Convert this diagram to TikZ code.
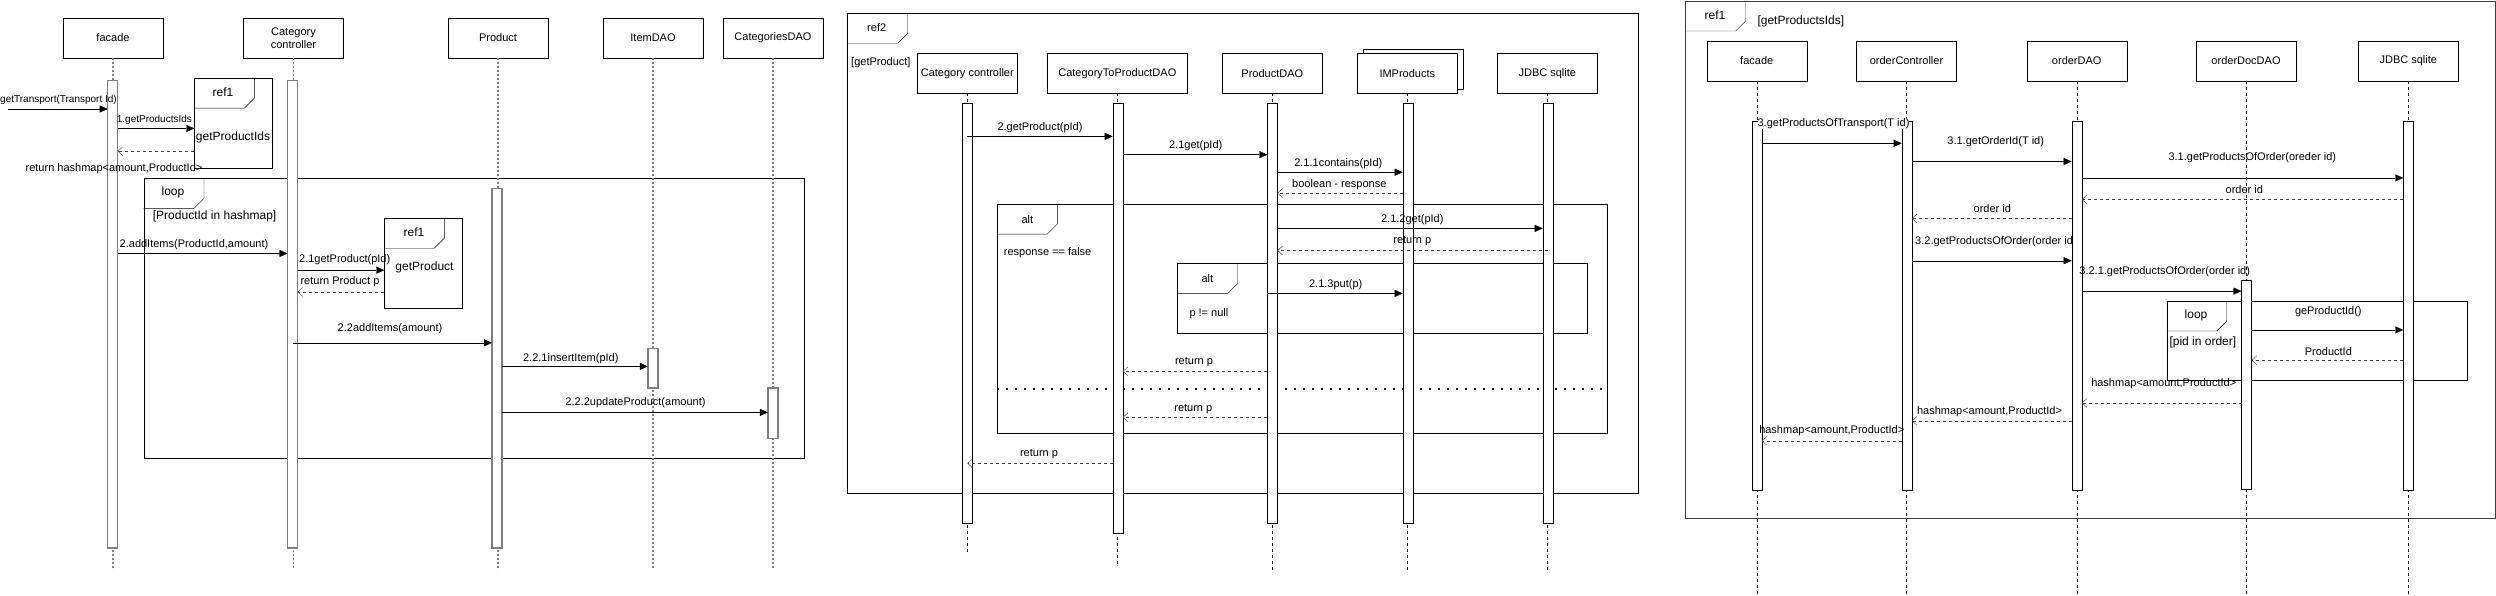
\documentclass[tikz,border=0pt]{standalone}
\usepackage{fontspec}
\setmainfont{Liberation Sans}
\usetikzlibrary{arrows.meta}
\definecolor{lgray}{RGB}{128,128,128}
\definecolor{dgray}{RGB}{60,60,60}
\begin{document}
\begin{tikzpicture}[x=1pt,y=-1pt,
  lifebox/.style={draw=black, fill=white, minimum width=100pt, minimum height=40pt, inner sep=1pt, outer sep=0pt, align=center, font=\fontsize{11}{13}\selectfont},
  act/.style={draw=black, fill=white, minimum width=10pt, inner sep=0pt, outer sep=0pt, anchor=north},
  actL/.style={act, draw=lgray, line width=1.4pt},
  lifeL/.style={draw=lgray, line width=1.4pt, dash pattern=on 2pt off 2pt},
  lifeD/.style={draw=black, dash pattern=on 3pt off 3pt},
  call/.style={-{Triangle[length=8pt,width=7pt]}, draw=black},
  ret/.style={-{Straight Barb[length=5pt,width=9pt]}, draw=dgray, dash pattern=on 3pt off 3pt},
  msg/.style={font=\fontsize{11}{13}\selectfont, inner sep=0pt},
  msgS/.style={font=\fontsize{10}{12}\selectfont, inner sep=0pt},
  frm/.style={draw=black, inner sep=0pt, outer sep=0pt, anchor=north west},
  tagL/.style={font=\fontsize{12}{14}\selectfont, inner sep=0pt},
  tagM/.style={font=\fontsize{11}{13}\selectfont, inner sep=0pt},
  sepline/.style={draw=black, line width=1.6pt, dash pattern=on 1.6pt off 7.4pt}
]
\fill[white] (0,0) rectangle (2496,596);
\useasboundingbox (0,0) rectangle (2496,596);

% ================= LEFT DIAGRAM =================
\node[lifebox] (Lf) at (113,38) {facade};
\node[lifebox] (Lcc) at (293.5,38) {Category\\controller};
\node[lifebox] (Lp) at (498,38) {Product};
\node[lifebox] (Li) at (653,38) {ItemDAO};
\node[lifebox] (Lc) at (773,38) {CategoriesDAO};

\node[frm, minimum width=77.4pt, minimum height=89.3pt] (Lref1) at (194.3,78.7) {};
\draw (Lref1.north west) ++(60,0) -- ++(0,19.5) -- ++(-10,10) -- ++(-50,0);
\node[tagL] at (223,92.5) {ref1};
\node[tagL] at (233,137.6) {getProductIds};

\node[frm, minimum width=660.6pt, minimum height=280pt] (Lloop) at (143.7,178) {};
\draw (Lloop.north west) ++(60.3,0) -- ++(0,20.3) -- ++(-10,10) -- ++(-50.3,0);
\node[tagL] at (173,192.7) {loop};
\node[tagL, anchor=west] at (152.7,216.7) {[ProductId in hashmap]};

\node[frm, minimum width=77.4pt, minimum height=89.5pt] (Lref1b) at (384.3,218.5) {};
\draw (Lref1b.north west) ++(60,0) -- ++(0,19.7) -- ++(-10,10) -- ++(-50,0);
\node[tagL] at (414,232.6) {ref1};
\node[tagL] at (424.5,267.2) {getProduct};

\foreach \n in {Lf,Lcc,Lp,Li,Lc} \draw[lifeL] (\n.south) -- (\n.south |- 0,570);

\node[actL, minimum height=467.4pt] (Laf) at (112.7,80.6) {};
\node[actL, minimum height=467.4pt] (Lacc) at (292.5,80.6) {};
\node[actL, minimum height=359.5pt] (Lap) at (497,188.5) {};
\node[actL, minimum height=39.5pt] (Lai) at (652.8,348.5) {};
\node[actL, minimum height=50.2pt] (Lac) at (772.8,388) {};

\coordinate (Lstart) at (8,109);
\draw[call] (Lstart) -- (Laf.west |- Lstart);
\node[msgS] at (58.5,100) {getTransport(Transport Id)};
\draw[call] (Laf.east |- 0,128.4) -- (Lref1.west |- 0,128.4);
\node[msgS] at (154.4,120) {1.getProductsIds};
\draw[ret] (Lref1.west |- 0,151.2) -- (Laf.east |- 0,151.2);
\node[msg] at (114,169) {return hashmap<amount,ProductId>};
\draw[call] (Laf.east |- 0,253.5) -- (Lacc.west |- 0,253.5);
\node[msg] at (194,245) {2.addItems(ProductId,amount)};
\draw[call] (Lacc.east |- 0,270.2) -- (Lref1b.west |- 0,270.2);
\node[msg] at (344.7,259.6) {2.1getProduct(pId)};
\draw[ret] (Lref1b.west |- 0,291.9) -- (Lacc.east |- 0,291.9);
\node[msg] at (340,282) {return Product p};
\draw[call] (Lacc.center |- 0,342.8) -- (Lap.west |- 0,342.8);
\node[msg] at (390,328.8) {2.2addItems(amount)};
\draw[call] (Lap.east |- 0,366.4) -- (Lai.west |- 0,366.4);
\node[msg] at (570.8,358.4) {2.2.1insertItem(pId)};
\draw[call] (Lap.east |- 0,412.4) -- (Lac.west |- 0,412.4);
\node[msg] at (635.5,403) {2.2.2updateProduct(amount)};

% ================= MIDDLE DIAGRAM =================
\node[frm, minimum width=790.4pt, minimum height=480pt] (Mref2) at (847.3,13.3) {};
\draw (Mref2.north west) ++(60.4,0) -- ++(0,20) -- ++(-10,10) -- ++(-50.4,0);
\node[tagM] at (876.7,27.7) {ref2};
\node[tagM, anchor=west] at (851,62.7) {[getProduct]};

\node[frm, minimum width=610pt, minimum height=228.8pt] (MaltO) at (997.3,204.5) {};
\draw (MaltO.north west) ++(60,0) -- ++(0,19.6) -- ++(-10,10) -- ++(-50,0);
\node[tagM] at (1027.3,219.3) {alt};
\node[tagM, anchor=west] at (1003.7,253.1) {response == false};
\node[frm, minimum width=410pt, minimum height=69.9pt] (MaltI) at (1177.3,263.4) {};
\draw (MaltI.north west) ++(60.4,0) -- ++(0,20) -- ++(-10,10) -- ++(-50.4,0);
\node[tagM] at (1207.3,278.2) {alt};
\node[tagM, anchor=west] at (1189.3,313.2) {p != null};
\draw[sepline] (MaltO.west |- 0,388.8) -- (MaltO.east |- 0,388.8);

\node[lifebox] (Mcc) at (967.3,73.2) {Category controller};
\node[lifebox, minimum width=140pt] (Mctp) at (1117.3,73.2) {CategoryToProductDAO};
\node[lifebox] (Mpd) at (1272.3,73.2) {ProductDAO};
\node[lifebox] (Mimb) at (1413.3,69.7) {};
\node[lifebox] (Mim) at (1407.3,73.2) {IMProducts};
\node[lifebox] (Mjd) at (1547.3,73.2) {JDBC sqlite};

\draw[lifeD] (Mcc.south) -- (Mcc.south |- 0,553);
\draw[lifeD] (Mctp.south) -- (Mctp.south |- 0,564);
\foreach \n in {Mpd,Mim,Mjd} \draw[lifeD] (\n.south) -- (\n.south |- 0,570);

\node[act, minimum height=420pt] (Macc) at (967.3,103.4) {};
\node[act, minimum height=429.9pt] (Mactp) at (1117.7,103.4) {};
\node[act, minimum height=420pt] (Mapd) at (1272.3,103.4) {};
\node[act, minimum height=420pt] (Maim) at (1407.7,103.4) {};
\node[act, minimum height=420pt] (Majd) at (1547.7,103.4) {};

\draw[call] (Macc.center |- 0,136.4) -- (Mactp.west |- 0,136.4);
\node[msg] at (1040,127.3) {2.getProduct(pId)};
\draw[call] (Mactp.east |- 0,154.7) -- (Mapd.west |- 0,154.7);
\node[msg] at (1195.7,145.2) {2.1get(pId)};
\draw[call] (Mapd.east |- 0,172.2) -- (Maim.west |- 0,172.2);
\node[msg] at (1338.3,163.4) {2.1.1contains(pId)};
\draw[ret] (Maim.west |- 0,193.1) -- (Mapd.east |- 0,193.1);
\node[msg] at (1339.3,184.3) {boolean - response};
\draw[call] (Mapd.east |- 0,228.4) -- (Majd.west |- 0,228.4);
\node[msg] at (1412.3,219.3) {2.1.2get(pId)};
\draw[ret] (Majd.center |- 0,250.5) -- (Mapd.east |- 0,250.5);
\node[msg] at (1412.3,241.4) {return p};
\draw[call] (Mapd.west |- 0,293.4) -- (Maim.west |- 0,293.4);
\node[msg] at (1335.7,284.3) {2.1.3put(p)};
\draw[ret] (Mapd.west |- 0,371.3) -- (Mactp.east |- 0,371.3);
\node[msg] at (1194,362.2) {return p};
\draw[ret] (Mapd.west |- 0,417.3) -- (Mactp.east |- 0,417.3);
\node[msg] at (1193.3,408.6) {return p};
\draw[ret] (Mactp.west |- 0,463.3) -- (Macc.center |- 0,463.3);
\node[msg] at (1039,454.2) {return p};

% ================= RIGHT DIAGRAM =================
\node[frm, draw=dgray, minimum width=809.7pt, minimum height=517pt] (Rref1) at (1685.3,1) {};
\draw[dgray] (Rref1.north west) ++(60.4,0) -- ++(0,20) -- ++(-10,10) -- ++(-50.4,0);
\node[tagL] at (1715,15) {ref1};
\node[tagL, anchor=west] at (1757.3,21) {[getProductsIds]};

\node[frm, minimum width=300pt, minimum height=79pt] (Rloop) at (2166.7,301) {};
\draw (Rloop.north west) ++(60,0) -- ++(0,20) -- ++(-10,10) -- ++(-50,0);
\node[tagL] at (2196,315.7) {loop};
\node[tagL, anchor=west] at (2169.3,342) {[pid in order]};

\node[lifebox] (Rf) at (1756.7,61) {facade};
\node[lifebox] (Roc) at (1906.5,61) {orderController};
\node[lifebox] (Rod) at (2076.7,61) {orderDAO};
\node[lifebox] (Rodd) at (2246,61) {orderDocDAO};
\node[lifebox] (Rjd) at (2408.3,61) {JDBC sqlite};

\foreach \n in {Rf,Roc,Rod,Rodd,Rjd} \draw[lifeD] (\n.south) -- (\n.south |- 0,596);

\node[msg] at (1915,242.1) [anchor=west] {3.2.getProductsOfOrder(order id};

\node[act, minimum height=369.4pt] (Raf) at (1756.7,120.9) {};
\node[act, minimum height=369.4pt] (Raoc) at (1906.7,120.9) {};
\node[act, minimum height=369.4pt] (Raod) at (2076.7,120.9) {};
\node[act, minimum height=209pt] (Raodd) at (2246.5,280.5) {};
\node[act, minimum height=369.4pt] (Rajd) at (2408.3,120.9) {};

\draw[call] (Raf.east |- 0,143.3) -- (Raoc.west |- 0,143.3);
\node[msg, fill=white] at (1833.5,123.5) {3.getProductsOfTransport(T id)};
\draw[call] (Raoc.east |- 0,161.5) -- (Raod.west |- 0,161.5);
\node[msg] at (1995.7,141.4) {3.1.getOrderId(T id)};
\draw[call] (Raod.east |- 0,177.9) -- (Rajd.west |- 0,177.9);
\node[msg] at (2252.3,157.7) {3.1.getProductsOfOrder(oreder id)};
\draw[ret] (Rajd.west |- 0,199.5) -- (Raod.east |- 0,199.5);
\node[msg] at (2244.3,190) {order id};
\draw[ret] (Raod.west |- 0,218.5) -- (Raoc.east |- 0,218.5);
\node[msg] at (1992.3,209) {order id};
\draw[call] (Raoc.east |- 0,260.7) -- (Raod.west |- 0,260.7);
\draw[call] (Raod.east |- 0,291.1) -- (Raodd.west |- 0,291.1);
\node[msg] at (2164.7,272.1) {3.2.1.getProductsOfOrder(order id)};
\draw[call] (Raodd.east |- 0,329.9) -- (Rajd.west |- 0,329.9);
\node[msg] at (2328.3,311.7) {geProductId()};
\draw[ret] (Rajd.west |- 0,360.3) -- (Raodd.east |- 0,360.3);
\node[msg] at (2328.3,351.6) {ProductId};
\draw[ret] (Raodd.west |- 0,402.9) -- (Raod.east |- 0,402.9);
\node[msg] at (2163.7,383.9) {hashmap<amount,ProductId>};
\draw[ret] (Raod.west |- 0,420.8) -- (Raoc.east |- 0,420.8);
\node[msg] at (1989.5,411.6) {hashmap<amount,ProductId>};
\draw[ret] (Raoc.west |- 0,440.9) -- (Raf.east |- 0,440.9);
\node[msg] at (1831.7,430.6) {hashmap<amount,ProductId>};
\end{tikzpicture}
\end{document}
